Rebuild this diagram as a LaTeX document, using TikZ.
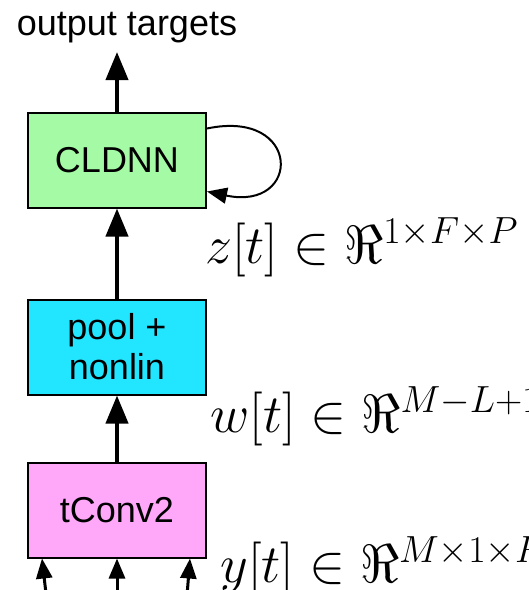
\RequirePackage{fix-cm}
\documentclass[tikz,border=0pt]{standalone}
\usepackage{fontspec}
\setmainfont{Liberation Sans}
\usetikzlibrary{positioning,arrows.meta}
\definecolor{cldnngreen}{RGB}{165,250,165}
\definecolor{poolcyan}{RGB}{34,230,255}
\definecolor{convpink}{RGB}{255,168,250}

\begin{document}
\begin{tikzpicture}[x=0.5pt, y=-0.5pt,
	block/.style={draw, line width=1pt, minimum width=89pt, minimum height=47.5pt, align=center, font=\fontsize{18}{20}\selectfont},
	flow/.style={line width=2pt, -{Triangle[length=14pt,width=11pt]}},
	feed/.style={line width=1.5pt, -{Triangle[length=10pt,width=8pt]}},
	recur/.style={line width=1pt, -{Triangle[length=10pt,width=8pt]}},
	dim/.style={anchor=base west, inner sep=0pt, font=\fontsize{27}{31}\selectfont}]
	\path [use as bounding box, clip] (0,0) rectangle (529,590);
	\node [block, fill=cldnngreen] (cldnn) at (117,160) {CLDNN};
	\node [block, fill=poolcyan, below=45pt of cldnn] (pool) {pool +\\nonlin};
	\node [block, fill=convpink, below=33pt of pool] (tconv) {tConv2};
	\node [inner sep=0pt, font=\fontsize{18}{20}\selectfont] (targets) at (127,28) {output targets};
	\coordinate (out) at (117,52);
	\coordinate (in0) at (49,620);
	\coordinate (in1) at (117,620);
	\coordinate (in2) at (185,620);
	\draw [flow] (cldnn.north) -- (out);
	\draw [flow] (pool.north) -- (cldnn.south);
	\draw [flow] (tconv.north) -- (pool.south);
	\draw [recur] ([yshift=-8.5pt]cldnn.north east) .. controls +(95,-20) and +(95,20) .. ([yshift=8.5pt]cldnn.south east);
	\draw [feed] (in0) -- ([xshift=-37.5pt]tconv.south);
	\draw [feed] (in1) -- (tconv.south);
	\draw [feed] (in2) -- ([xshift=36.5pt]tconv.south);
	\node [dim] (zlab) at (205,263) {$z[t] \in \Re^{1\times F\times P}$};
	\node [dim] (wlab) at (210,432) {$w[t] \in \Re^{M-L+1\times F\times P}$};
	\node [dim] (ylab) at (220,582) {$y[t] \in \Re^{M\times 1\times P}$};
\end{tikzpicture}
\end{document}
